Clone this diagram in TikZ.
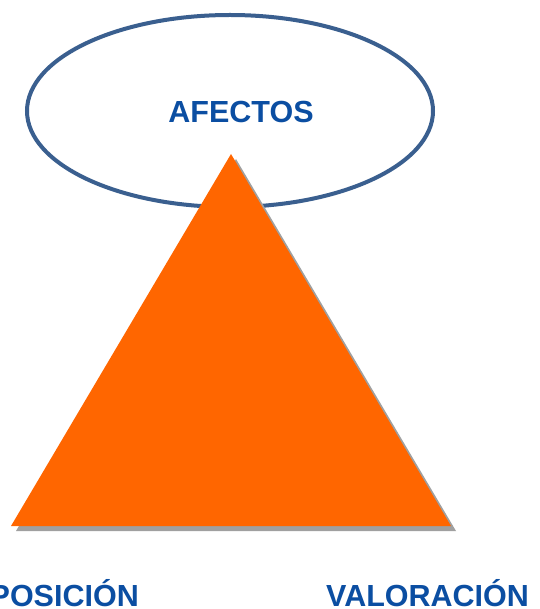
\documentclass[tikz,border=0pt]{standalone}
\usepackage{fontspec}
\setmainfont{Liberation Sans}
\definecolor{tribg}{HTML}{FF6600}
\definecolor{shadowgray}{HTML}{A0A0A0}
\definecolor{ellline}{HTML}{3A5F8F}
\definecolor{txtblue}{HTML}{0B4EA2}
\begin{document}
\begin{tikzpicture}[x=1pt,y=-1pt,
  lbl/.style={font=\fontsize{30.5}{30.5}\selectfont\bfseries, text=txtblue, inner sep=0pt}]
\useasboundingbox (0,0) rectangle (539,609);
\clip (0,0) rectangle (539,609);
\fill[white] (0,0) rectangle (539,609);
% ellipse
\draw[ellline, line width=4pt, fill=white] (230,111) ellipse [x radius=203, y radius=96];
% triangle shadow and triangle
\fill[shadowgray] (236,159) -- (456,531) -- (16,531) -- cycle;
\fill[tribg] (231,154) -- (451,526) -- (11,526) -- cycle;
% labels
\node[lbl, anchor=base] (afectos) at (241,123) {AFECTOS};
\node[lbl, anchor=base east] (posicion) at (139,606.5) {POSICIÓN};
\node[lbl, anchor=base west] (valoracion) at (326,606.5) {VALORACIÓN};
\end{tikzpicture}
\end{document}
